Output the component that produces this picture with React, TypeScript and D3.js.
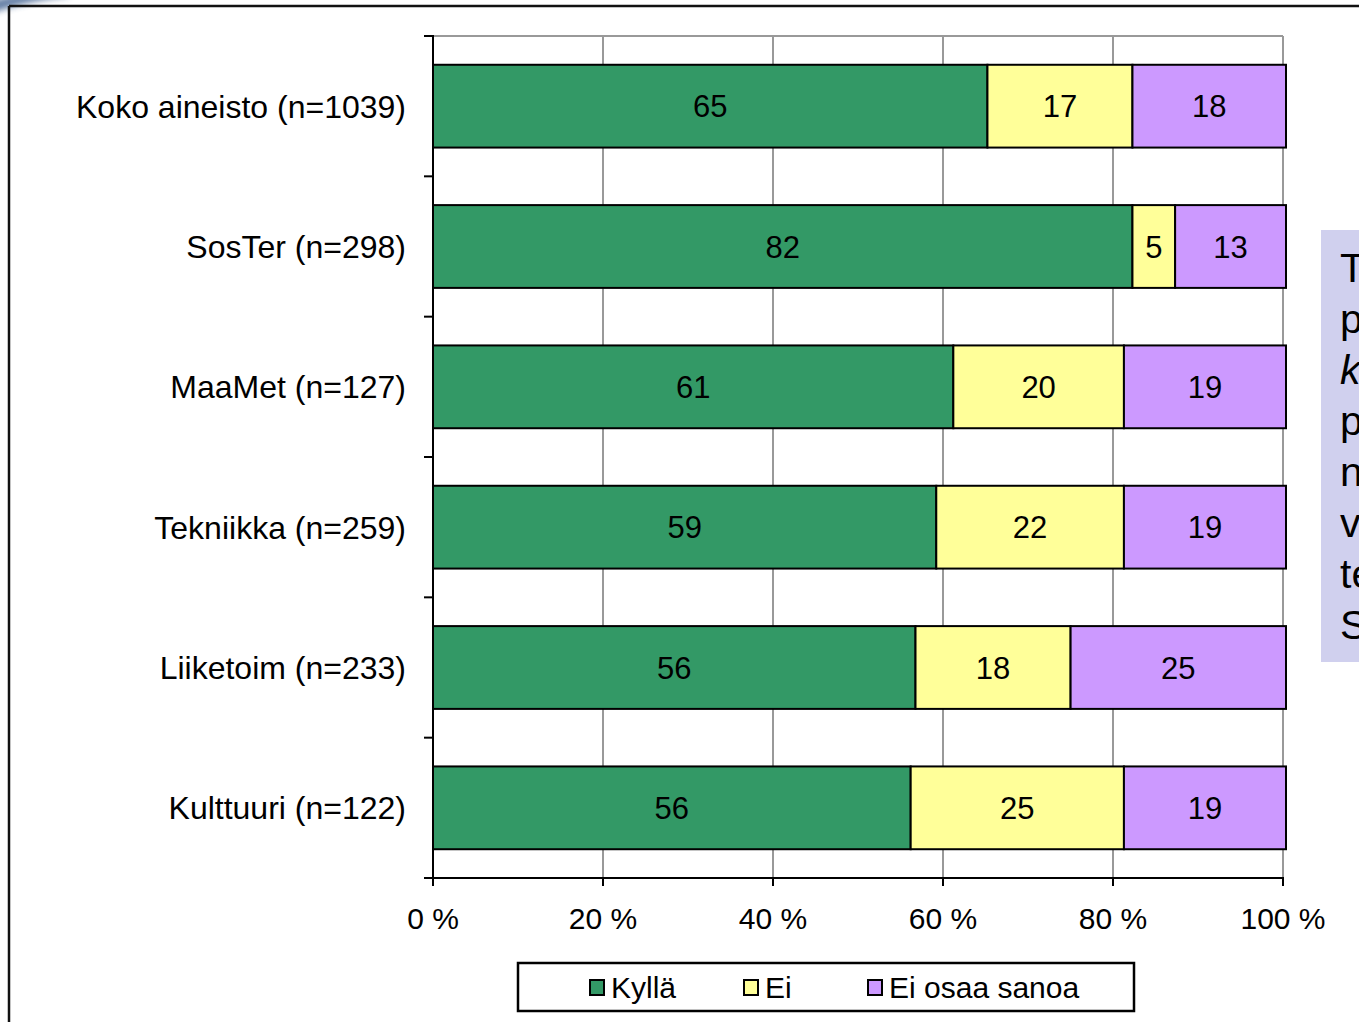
import React from "react";
import * as d3 from "d3";

// Survey answers per group, percent of respondents
const categories = [
  "Koko aineisto (n=1039)",
  "SosTer (n=298)",
  "MaaMet (n=127)",
  "Tekniikka (n=259)",
  "Liiketoim (n=233)",
  "Kulttuuri (n=122)",
];
const kylla = [65, 82, 61, 59, 56, 56];
const ei = [17, 5, 20, 22, 18, 25];
const eiOsaa = [18, 13, 19, 19, 25, 19];

const seriesKeys = ["Kyllä", "Ei", "Ei osaa sanoa"];
const seriesColors = ["#339966", "#FFFF99", "#CC99FF"];
const xTicks = [0, 0.2, 0.4, 0.6, 0.8, 1];

// Side note text lines (the box runs off the right edge of the slide)
const noteLines = ["T", "p", "k", "p", "n", "v", "te", "S"];

const W = 1359;
const H = 1022;
const FONT = "'Liberation Sans', Arial, sans-serif";

export default function App() {
  const rows = categories.map((c, i) => ({
    cat: c,
    "Kyllä": kylla[i],
    "Ei": ei[i],
    "Ei osaa sanoa": eiOsaa[i],
  }));

  const stacked = d3
    .stack<any>()
    .keys(seriesKeys)
    .offset(d3.stackOffsetExpand)(rows);

  const x = d3.scaleLinear().domain([0, 1]).range([433, 1283]);
  // bars overhang the plot border by a few pixels
  const xBar = d3.scaleLinear().domain([0, 1]).range([433, 1286]);
  const y = d3
    .scaleBand<string>()
    .domain(categories)
    .range([36, 878])
    .paddingInner(0.41)
    .paddingOuter(0.205);

  const top = 36;
  const bottom = 878;
  const step = y.step();
  const boundaries = d3.range(categories.length + 1).map((i) => top + i * step);

  const legendItems = [
    { key: seriesKeys[0], color: seriesColors[0], x: 590 },
    { key: seriesKeys[1], color: seriesColors[1], x: 744 },
    { key: seriesKeys[2], color: seriesColors[2], x: 868 },
  ];

  return (
    <svg
      width={W}
      height={H}
      style={{ position: "absolute", left: 0, top: 0, background: "#fff" }}
      fontFamily={FONT}
    >
      <defs>
        <filter id="soft" x="-50%" y="-50%" width="200%" height="200%">
          <feGaussianBlur stdDeviation="3" />
        </filter>
      </defs>
      <rect width={W} height={H} fill="#fff" />

      {/* slide decoration peeking in at the corner */}
      <path
        d="M -10 14 Q 20 2 70 -4 L 60 -10 Q 10 -6 -10 2 Z"
        fill="#3d5f8f"
        opacity={0.8}
        filter="url(#soft)"
      />

      {/* slide frame */}
      <line x1={9} y1={6} x2={W} y2={6} stroke="#111" strokeWidth={2.5} />
      <line x1={9} y1={6} x2={9} y2={H} stroke="#111" strokeWidth={2.5} />

      {/* gridlines and plot border */}
      {xTicks.slice(1).map((t) => (
        <line
          key={"g" + t}
          x1={x(t)}
          x2={x(t)}
          y1={top}
          y2={bottom}
          stroke="#999"
          strokeWidth={2}
        />
      ))}
      <line x1={x(0)} x2={x(1)} y1={top} y2={top} stroke="#999" strokeWidth={2} />

      {/* bars */}
      {stacked.map((s, si) =>
        s.map((d, i) => {
          const x0 = xBar(d[0]);
          const x1 = xBar(d[1]);
          const yy = y(categories[i])!;
          const val = (rows[i] as any)[s.key];
          return (
            <g key={s.key + i}>
              <rect
                x={x0}
                y={yy}
                width={x1 - x0}
                height={y.bandwidth()}
                fill={seriesColors[si]}
                stroke="#000"
                strokeWidth={2}
              />
              <text
                x={(x0 + x1) / 2}
                y={yy + y.bandwidth() / 2}
                dy="0.36em"
                textAnchor="middle"
                fontSize={31}
                fill="#000"
              >
                {val}
              </text>
            </g>
          );
        })
      )}

      {/* axes */}
      <line x1={x(0)} x2={x(0)} y1={top - 1} y2={bottom} stroke="#000" strokeWidth={2} />
      {boundaries.map((b, i) => (
        <line key={"yt" + i} x1={424} x2={x(0)} y1={b} y2={b} stroke="#000" strokeWidth={2} />
      ))}
      <line x1={424} x2={x(1) + 1} y1={bottom} y2={bottom} stroke="#000" strokeWidth={2} />
      {xTicks.map((t) => (
        <g key={"xt" + t}>
          <line x1={x(t)} x2={x(t)} y1={bottom} y2={bottom + 8} stroke="#000" strokeWidth={2} />
          <text x={x(t)} y={929} textAnchor="middle" fontSize={30} fill="#000">
            {`${Math.round(t * 100)} %`}
          </text>
        </g>
      ))}

      {/* category labels */}
      {categories.map((c) => (
        <text
          key={c}
          x={406}
          y={y(c)! + y.bandwidth() / 2}
          dy="0.36em"
          textAnchor="end"
          fontSize={32}
          fill="#000"
        >
          {c}
        </text>
      ))}

      {/* legend */}
      <rect x={518} y={963} width={616} height={48} fill="#fff" stroke="#000" strokeWidth={2.5} />
      {legendItems.map((it) => (
        <g key={it.key}>
          <rect x={it.x} y={980} width={14} height={15} fill={it.color} stroke="#000" strokeWidth={2} />
          <text x={it.x + 21} y={998} fontSize={30} fill="#000">
            {it.key}
          </text>
        </g>
      ))}

      {/* side note box */}
      <rect x={1321} y={230} width={60} height={432} fill="#D0D0EE" />
      {noteLines.map((t, i) => (
        <text
          key={"n" + i}
          x={1340}
          y={282 + i * 51}
          fontSize={41}
          fontStyle={t === "k" ? "italic" : "normal"}
          fill="#000"
        >
          {t}
        </text>
      ))}
    </svg>
  );
}
